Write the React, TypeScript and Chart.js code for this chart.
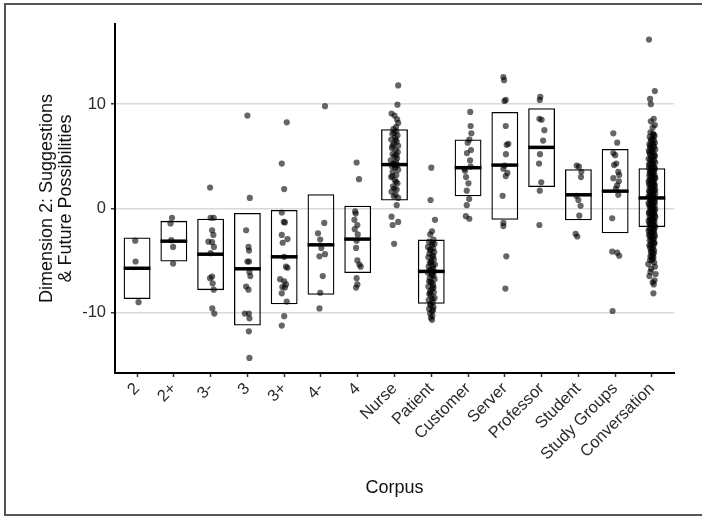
import React, { useEffect, useRef } from 'react';
import { Chart, registerables } from 'chart.js';

Chart.register(...registerables);

const FONT = '"Liberation Sans", Arial, Helvetica, sans-serif';

const categories = ['2', '2+', '3-', '3', '3+', '4-', '4', 'Nurse', 'Patient', 'Customer', 'Server', 'Professor', 'Student', 'Study Groups', 'Conversation'];

// crossbar: lower edge, upper edge, mean
const boxLow = [-8.7, -5.1, -7.85, -11.25, -9.2, -8.3, -6.2, 0.75, -9.15, 1.15, -1.1, 2.05, -1.15, -2.4, -1.8];
const boxHigh = [-2.8, -1.2, -1.0, -0.45, -0.15, 1.35, 0.25, 7.6, -3.0, 6.6, 9.25, 9.6, 3.75, 5.7, 3.85];
const boxMean = [-5.75, -3.15, -4.4, -5.8, -4.65, -3.5, -2.95, 4.2, -6.05, 3.9, 4.15, 5.85, 1.3, 1.65, 1.0];

const yTicks = [-10, 0, 10];

// jittered observations: [jitter offset in category units, value]
const p2 = [[-0.05, -3.1], [-0.04, -5.1], [0.04, -9.0]];
const p2plus = [[-0.05, -0.9], [-0.09, -1.45], [-0.07, -3.05], [-0.02, -3.7], [-0.02, -5.3]];
const p3minus = [[-0.015, 2.0], [0.0, -0.9], [0.085, -0.9], [0.04, -2.1], [0.075, -2.55], [-0.06, -3.2], [0.04, -3.25], [0.09, -3.7], [0.0, -4.3], [0.04, -6.55], [-0.015, -6.7], [0.055, -7.2], [0.085, -7.8], [0.045, -9.6], [0.1, -10.1]];
const p3 = [[0.0, 8.9], [0.065, 1.0], [-0.035, -2.1], [0.03, -3.7], [0.045, -4.05], [0.0, -5.1], [0.045, -5.1], [0.055, -6.1], [0.08, -6.5], [-0.035, -7.5], [0.03, -7.8], [-0.07, -10.1], [0.04, -10.1], [0.055, -10.55], [0.04, -11.8], [0.055, -14.35]];
const p3plus = [[0.07, 8.25], [-0.065, 4.3], [0.0, 1.85], [-0.065, -0.4], [-0.01, -1.3], [0.02, -1.35], [-0.065, -2.55], [0.09, -2.95], [-0.04, -3.3], [0.0, -4.65], [0.05, -5.6], [0.09, -5.7], [-0.11, -6.8], [0.0, -7.0], [0.05, -7.3], [-0.05, -7.55], [0.02, -7.6], [-0.065, -8.15], [0.07, -8.95], [0.0, -10.35], [-0.065, -11.25]];
const p4minus = [[0.11, 9.8], [0.09, -1.4], [-0.08, -2.4], [-0.02, -3.0], [0.01, -3.8], [0.11, -4.4], [-0.04, -4.6], [0.05, -6.5], [-0.02, -8.1], [-0.04, -9.6]];
const p4 = [[-0.03, 4.4], [0.035, 2.8], [-0.07, -0.3], [-0.055, -0.5], [-0.09, -1.1], [-0.01, -1.6], [-0.08, -2.0], [0.0, -2.5], [-0.03, -3.1], [-0.045, -3.8], [-0.01, -5.0], [0.045, -5.4], [0.08, -5.6], [-0.03, -6.7], [-0.01, -7.3], [-0.045, -7.6]];
const pNurse = [[0.1, 11.8], [0.08, 9.95], [-0.08, 9.1], [0.0, 8.9], [0.07, 8.55], [0.1, 8.2], [-0.03, 7.6], [0.05, 7.4], [-0.06, 7.15], [0.08, 7.0], [0.02, 6.8], [-0.09, 6.6], [0.06, 6.4], [-0.02, 6.2], [0.1, 6.0], [-0.07, 5.8], [0.03, 5.6], [0.09, 5.4], [-0.05, 5.2], [0.0, 5.0], [0.07, 4.8], [-0.1, 4.6], [0.04, 4.45], [-0.03, 4.3], [0.08, 4.15], [-0.07, 4.05], [0.02, 3.9], [0.1, 3.7], [-0.05, 3.5], [0.05, 3.2], [-0.09, 3.0], [0.01, 2.7], [0.08, 2.4], [-0.04, 2.1], [0.06, 1.8], [-0.08, 1.6], [0.03, 1.3], [0.1, 1.0], [0.06, 0.3], [-0.08, -0.8], [0.1, -1.3], [-0.05, -1.6], [-0.01, -3.4],
  [0.04, 7.8], [-0.01, 7.25], [0.03, 6.55], [-0.05, 6.0], [0.05, 5.1], [-0.02, 4.25], [0.01, 4.1], [-0.06, 3.1], [0.04, 2.55], [0.0, 1.9], [-0.02, 1.15]];
const pPatient = [[0.0, 3.9], [-0.02, 0.8], [0.1, -1.1], [0.02, -2.2], [-0.03, -2.5], [0.06, -3.0], [-0.06, -3.2], [0.09, -3.4], [0.02, -3.5], [-0.09, -3.7], [0.05, -3.85], [-0.02, -4.0], [0.08, -4.2], [-0.05, -4.35], [0.03, -4.5], [-0.08, -4.7], [0.07, -4.9], [0.0, -5.05], [-0.04, -5.25], [0.1, -5.4], [-0.07, -5.6], [0.04, -5.75], [-0.01, -5.9], [0.08, -6.05], [-0.09, -6.15], [0.02, -6.3], [0.06, -6.5], [-0.04, -6.65], [0.09, -6.8], [-0.06, -7.0], [0.01, -7.15], [0.05, -7.35], [-0.08, -7.5], [0.03, -7.7], [-0.02, -7.9], [0.07, -8.05], [-0.05, -8.25], [0.0, -8.4], [0.09, -8.6], [-0.07, -8.8], [0.04, -9.0], [-0.03, -9.2], [0.06, -9.45], [-0.06, -9.65], [0.02, -9.85], [-0.03, -10.1], [0.03, -10.3], [-0.01, -10.5], [0.02, -10.7],
  [0.03, -3.3], [-0.03, -3.95], [0.05, -4.6], [-0.01, -5.15], [0.04, -5.5], [-0.05, -6.0], [0.01, -6.4], [-0.02, -7.05], [0.06, -7.6], [-0.04, -8.1], [0.03, -8.7], [-0.01, -9.3], [0.05, -9.75]];
const pCustomer = [[0.06, 9.25], [0.07, 7.9], [0.09, 7.2], [0.035, 6.6], [-0.01, 6.3], [0.08, 5.6], [-0.03, 5.3], [0.055, 4.6], [0.07, 4.0], [-0.1, 3.8], [-0.08, 3.6], [-0.055, 3.0], [0.01, 2.4], [-0.035, 1.7], [0.03, 0.9], [-0.035, 0.3], [-0.06, -0.75], [0.035, -1.0]];
const pServer = [[-0.04, 12.6], [-0.02, 12.3], [0.025, 10.4], [-0.01, 10.3], [0.025, 7.9], [0.095, 6.2], [0.05, 6.1], [0.03, 5.2], [-0.01, 4.1], [-0.04, 3.8], [0.07, 3.4], [0.025, 3.1], [-0.06, 1.2], [-0.04, -1.4], [-0.04, -1.7], [0.04, -4.6], [0.015, -7.7]];
const pProfessor = [[-0.035, 10.7], [-0.05, 10.4], [-0.06, 8.6], [0.0, 8.5], [0.075, 7.5], [0.04, 6.5], [-0.045, 5.2], [-0.07, 4.3], [-0.01, 2.5], [-0.05, 1.7], [-0.06, -1.6]];
const pStudent = [[-0.045, 4.1], [0.015, 4.0], [0.08, 3.5], [0.07, 3.0], [-0.055, 1.2], [0.0, 0.8], [0.06, 0.25], [0.025, -0.7], [-0.075, -2.45], [-0.03, -2.7]];
const pStudyGroups = [[-0.05, 7.2], [0.055, 6.3], [-0.05, 5.3], [0.0, 5.1], [0.03, 4.3], [-0.03, 4.15], [0.085, 3.5], [0.11, 3.2], [-0.05, 2.9], [0.1, 2.6], [0.055, 2.2], [0.02, 1.9], [0.085, 1.3], [-0.08, -0.95], [-0.08, -4.15], [0.055, -4.25], [0.11, -4.55], [-0.07, -9.85]];
const pConversation = [
  [-0.08, 16.2], [0.08, 11.25], [-0.05, 10.5], [-0.03, 10.0], [0.05, 8.6], [-0.03, 8.35], [0.08, 8.0], [0.02, 7.75],
  [-0.04, 7.3], [0.03, 7.15], [0.07, 6.95], [-0.06, 6.85], [0.01, 6.7], [0.05, 6.55], [-0.03, 6.4], [0.08, 6.3], [-0.07, 6.15], [0.02, 6.05],
  [0.06, 5.9], [-0.04, 5.8], [0.09, 5.65], [-0.08, 5.55], [0.0, 5.45], [0.04, 5.3], [-0.05, 5.2], [0.07, 5.1], [-0.02, 4.95], [0.03, 4.85],
  [-0.09, 4.75], [0.06, 4.6], [-0.01, 4.5], [0.09, 4.4], [-0.06, 4.3], [0.02, 4.2], [-0.03, 4.05], [0.05, 3.95], [-0.08, 3.85], [0.08, 3.75],
  [0.0, 3.65], [-0.05, 3.5], [0.04, 3.4], [-0.02, 3.3], [0.07, 3.2], [-0.07, 3.1], [0.02, 3.0], [0.09, 2.9], [-0.04, 2.8], [0.05, 2.7],
  [-0.09, 2.6], [0.01, 2.5], [0.06, 2.4], [-0.03, 2.3], [0.08, 2.2], [-0.06, 2.1], [0.03, 2.0], [-0.01, 1.9], [0.07, 1.8], [-0.08, 1.7],
  [0.04, 1.6], [-0.04, 1.5], [0.09, 1.4], [-0.02, 1.3], [0.05, 1.2], [-0.07, 1.1], [0.02, 1.0], [0.08, 0.9], [-0.05, 0.8], [0.0, 0.7],
  [0.06, 0.6], [-0.09, 0.5], [0.03, 0.4], [-0.03, 0.3], [0.07, 0.2], [-0.06, 0.1], [0.01, 0.0], [0.09, -0.1], [-0.04, -0.2], [0.04, -0.3],
  [-0.08, -0.4], [0.06, -0.5], [-0.01, -0.6], [0.08, -0.7], [-0.06, -0.8], [0.02, -0.9], [-0.03, -1.0], [0.05, -1.1], [-0.09, -1.2], [0.07, -1.3],
  [0.0, -1.4], [-0.05, -1.5], [0.04, -1.6], [-0.02, -1.7], [0.09, -1.8], [-0.07, -1.95], [0.03, -2.05], [0.06, -2.2], [-0.04, -2.3], [0.01, -2.45],
  [-0.08, -2.55], [0.08, -2.7], [-0.02, -2.8], [0.05, -2.95], [-0.06, -3.05], [0.02, -3.2], [0.07, -3.35], [-0.03, -3.45], [0.04, -3.6], [-0.05, -3.75],
  [0.01, -3.9], [0.06, -4.05], [-0.02, -4.2], [0.03, -4.4], [-0.04, -4.6], [0.02, -4.8], [0.0, -5.0],
  [-0.1, -5.35], [0.08, -5.6], [-0.02, -5.8], [0.1, -6.3], [-0.07, -6.5], [0.02, -7.1], [0.05, -7.3], [0.04, -8.15],
  [0.05, 7.05], [-0.02, 6.6], [0.04, 6.2], [-0.05, 5.95], [0.02, 5.7], [-0.07, 5.35], [0.08, 5.0], [-0.04, 4.65], [0.03, 4.35], [-0.08, 4.15],
  [0.07, 3.9], [-0.02, 3.7], [0.05, 3.55], [-0.06, 3.35], [0.01, 3.15], [0.08, 2.95], [-0.05, 2.75], [0.03, 2.55], [-0.08, 2.35], [0.06, 2.15],
  [-0.02, 1.95], [0.09, 1.75], [-0.06, 1.55], [0.02, 1.35], [-0.09, 1.15], [0.05, 0.95], [-0.03, 0.75], [0.08, 0.55], [-0.07, 0.35], [0.03, 0.15],
  [-0.02, -0.05], [0.06, -0.25], [-0.08, -0.45], [0.02, -0.65], [0.09, -0.85], [-0.05, -1.05], [0.03, -1.25], [-0.07, -1.45], [0.07, -1.65], [-0.03, -1.85],
  [0.05, -2.0], [-0.09, -2.15], [0.0, -2.35], [0.07, -2.5], [-0.05, -2.65], [0.03, -2.85], [-0.02, -3.1], [0.06, -3.3], [-0.07, -3.55], [0.02, -3.8],
  [-0.03, -4.1], [0.05, -4.3], [-0.01, -4.55], [0.04, -4.75], [-0.05, -4.95], [0.06, -5.2], [-0.04, -6.1], [0.07, -6.9],
];

const pointSets = [p2, p2plus, p3minus, p3, p3plus, p4minus, p4, pNurse, pPatient, pCustomer, pServer, pProfessor, pStudent, pStudyGroups, pConversation];

export default function App() {
  const ref = useRef<HTMLCanvasElement>(null);

  useEffect(() => {
    const canvas = ref.current;
    if (!canvas) return;

    const boxData = categories.map((_, i) => ({ x: i + 1, y: [boxLow[i], boxHigh[i]] }));
    const meanData = categories.map((_, i) => ({ x: i + 1, y: boxMean[i] }));
    const pointData: { x: number; y: number }[] = [];
    pointSets.forEach((set, i) => {
      set.forEach(([j, v]) => pointData.push({ x: i + 1 + j, y: v }));
    });

    const chart = new Chart(canvas, {
      type: 'bar',
      data: {
        datasets: [
          {
            type: 'scatter',
            data: pointData,
            pointRadius: 3.1,
            pointHoverRadius: 3.1,
            pointBackgroundColor: 'rgba(0,0,0,0.6)',
            pointBorderWidth: 0,
            order: 0,
          } as any,
          {
            type: 'scatter',
            data: meanData,
            pointStyle: 'line',
            pointRadius: 13.4,
            pointHoverRadius: 13.4,
            pointBorderColor: '#000',
            pointBorderWidth: 3.5,
            order: 1,
          } as any,
          {
            type: 'bar',
            data: boxData,
            backgroundColor: 'rgba(0,0,0,0)',
            borderColor: '#000',
            borderWidth: 1.3,
            borderSkipped: false,
            categoryPercentage: 1,
            barPercentage: 0.73,
            order: 2,
          } as any,
        ],
      },
      options: {
        animation: false,
        responsive: false,
        devicePixelRatio: 1,
        events: [],
        layout: { padding: { top: 24, right: 28, left: 0, bottom: 0 } },
        plugins: { legend: { display: false }, tooltip: { enabled: false } },
        scales: {
          x: {
            type: 'linear',
            min: 0.4,
            max: 15.6,
            offset: false,
            afterBuildTicks: (s: any) => { s.ticks = categories.map((_, i) => ({ value: i + 1 })); },
            afterFit: (s: any) => { s.height = 144; },
            ticks: {
              autoSkip: false,
              minRotation: 45,
              maxRotation: 45,
              padding: 2,
              color: '#2b2b2b',
              font: { family: FONT, size: 16.5 },
              callback: (_v: any, i: number) => categories[i],
            },
            grid: { display: true, drawOnChartArea: false, drawTicks: true, tickLength: 4, tickColor: '#333', tickWidth: 1.5, offset: false },
            border: { display: true, color: '#000', width: 2 },
            title: { display: true, text: 'Corpus', color: '#111', font: { family: FONT, size: 18, lineHeight: 1.07 }, padding: { top: 0, bottom: 19 } },
          },
          y: {
            type: 'linear',
            min: -15.8,
            max: 17.69,
            afterBuildTicks: (s: any) => { s.ticks = yTicks.map((v) => ({ value: v })); },
            afterFit: (s: any) => { s.width = 115; },
            ticks: { padding: 5, color: '#2b2b2b', font: { family: FONT, size: 16.5 }, callback: (v: any) => String(v) },
            grid: { color: '#dadada', lineWidth: 1.5, drawTicks: true, tickLength: 4, tickColor: '#333', tickWidth: 1.5 },
            border: { display: true, color: '#000', width: 2 },
            title: {
              display: true,
              text: ['Dimension 2: Suggestions', '& Future Possibilities'],
              color: '#111',
              font: { family: FONT, size: 18, lineHeight: 1.07 },
              padding: { top: 37, bottom: 0 },
            },
          },
        },
      } as any,
    });

    return () => chart.destroy();
  }, []);

  return (
    <div style={{ position: 'fixed', left: 0, top: 0, width: 702, height: 517, overflow: 'hidden', background: '#fff' }}>
      <div style={{ position: 'absolute', left: 4, top: 3, width: 800, height: 513, boxSizing: 'border-box', border: '2px solid #555' }} />
      <canvas ref={ref} width={702} height={517} style={{ position: 'absolute', left: 0, top: 0, width: 702, height: 517 }} />
    </div>
  );
}
